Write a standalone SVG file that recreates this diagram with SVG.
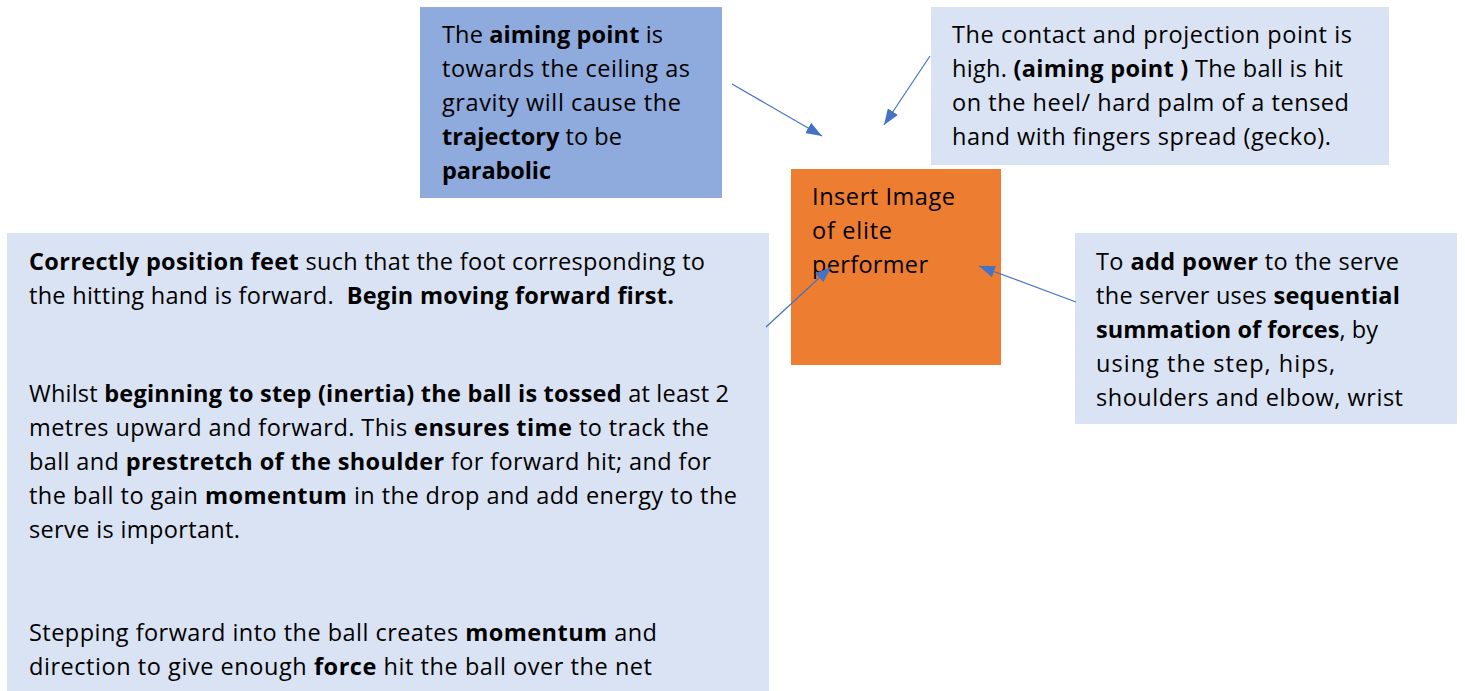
<svg xmlns="http://www.w3.org/2000/svg" width="1465" height="691" viewBox="0 0 1465 691">
<style>
text{font-family:"Open Sans","Liberation Sans",Arial,sans-serif;font-size:23.5px;fill:#000;white-space:pre}
.b{font-weight:bold}
.pale{fill:#DAE3F3}
.conn line{stroke:#4472C4;stroke-width:1.2;fill:none}
</style>
<defs>
<marker id="ah" viewBox="0 0 16 12" markerWidth="16" markerHeight="12" refX="16" refY="6" orient="auto" markerUnits="userSpaceOnUse">
<path d="M0,0 L16,6 L0,12 Z" fill="#4472C4"/>
</marker>
</defs>
<rect width="1465" height="691" fill="#fff"/>
<g id="aim">
<rect x="420" y="7" width="302" height="191" fill="#8FAADC"/>
<text x="442" y="43" textLength="221" lengthAdjust="spacing">The <tspan class="b">aiming point</tspan> is</text>
<text x="442" y="77" textLength="248" lengthAdjust="spacing">towards the ceiling as</text>
<text x="442" y="111" textLength="239" lengthAdjust="spacing">gravity will cause the</text>
<text x="442" y="145" textLength="180" lengthAdjust="spacing"><tspan class="b">trajectory</tspan> to be</text>
<text x="442" y="179" class="b" textLength="109" lengthAdjust="spacing">parabolic</text>
</g>
<g id="contact">
<rect x="931" y="7" width="458" height="158" class="pale"/>
<text x="952" y="43" textLength="400" lengthAdjust="spacing">The contact and projection point is</text>
<text x="952" y="77" textLength="391" lengthAdjust="spacing">high. <tspan class="b">(aiming point )</tspan> The ball is hit</text>
<text x="952" y="111" textLength="397" lengthAdjust="spacing">on the heel/ hard palm of a tensed</text>
<text x="952" y="145" textLength="379" lengthAdjust="spacing">hand with fingers spread (gecko).</text>
</g>
<g id="image">
<rect x="791" y="169" width="210" height="196" fill="#ED7D31"/>
<text x="812" y="205" textLength="143" lengthAdjust="spacing">Insert Image</text>
<text x="812" y="239" textLength="80" lengthAdjust="spacing">of elite</text>
<text x="812" y="273" textLength="116" lengthAdjust="spacing">performer</text>
</g>
<g id="power">
<rect x="1075" y="233" width="382" height="191" class="pale"/>
<text x="1096" y="270" textLength="303" lengthAdjust="spacing">To <tspan class="b">add power</tspan> to the serve</text>
<text x="1096" y="304" textLength="304" lengthAdjust="spacing">the server uses <tspan class="b">sequential</tspan></text>
<text x="1096" y="338" textLength="282" lengthAdjust="spacing"><tspan class="b">summation of forces</tspan>, by</text>
<text x="1096" y="372" textLength="239" lengthAdjust="spacing">using the step, hips,</text>
<text x="1096" y="406" textLength="307" lengthAdjust="spacing">shoulders and elbow, wrist</text>
</g>
<g id="feet">
<rect x="7" y="233" width="762" height="458" class="pale"/>
<text x="29" y="270" textLength="676" lengthAdjust="spacing"><tspan class="b">Correctly position feet</tspan> such that the foot corresponding to</text>
<text x="29" y="304" textLength="645" lengthAdjust="spacing">the hitting hand is forward.  <tspan class="b">Begin moving forward first.</tspan></text>
<text x="29" y="402" textLength="700" lengthAdjust="spacing">Whilst <tspan class="b">beginning to step (inertia) the ball is tossed</tspan> at least 2</text>
<text x="29" y="436" textLength="680" lengthAdjust="spacing">metres upward and forward. This <tspan class="b">ensures time</tspan> to track the</text>
<text x="29" y="470" textLength="682" lengthAdjust="spacing">ball and <tspan class="b">prestretch of the shoulder</tspan> for forward hit; and for</text>
<text x="29" y="504" textLength="708" lengthAdjust="spacing">the ball to gain <tspan class="b">momentum</tspan> in the drop and add energy to the</text>
<text x="29" y="538" textLength="211" lengthAdjust="spacing">serve is important.</text>
<text x="29" y="641" textLength="628" lengthAdjust="spacing">Stepping forward into the ball creates <tspan class="b">momentum</tspan> and</text>
<text x="29" y="675" textLength="623" lengthAdjust="spacing">direction to give enough <tspan class="b">force</tspan> hit the ball over the net</text>
</g>
<g id="connectors" class="conn">
<line x1="732" y1="84" x2="822" y2="136" marker-end="url(#ah)"/>
<line x1="930" y1="56" x2="884" y2="125" marker-end="url(#ah)"/>
<line x1="766" y1="327" x2="831" y2="267" marker-end="url(#ah)"/>
<line x1="1076" y1="302" x2="979" y2="266" marker-end="url(#ah)"/>
</g>
</svg>
